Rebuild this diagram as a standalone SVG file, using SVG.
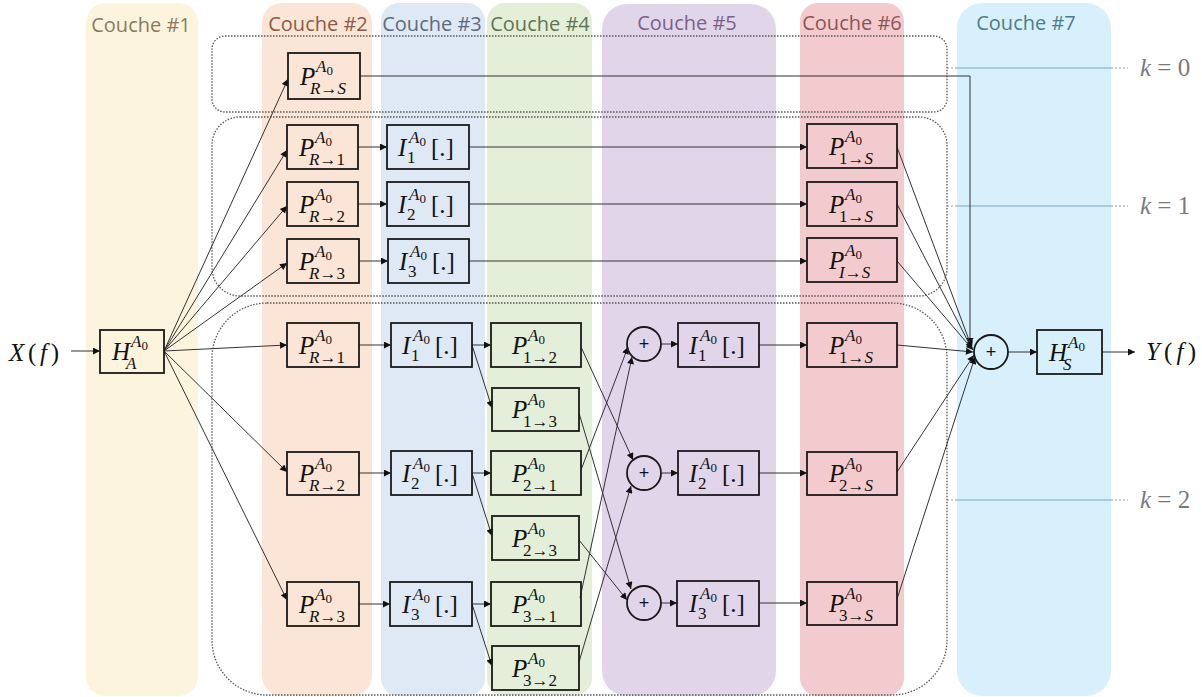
<svg xmlns="http://www.w3.org/2000/svg" width="1202" height="697" viewBox="0 0 1202 697">
<style>
.hd{font-family:"Open Sans","Liberation Sans",sans-serif;font-size:20px;text-anchor:middle}
.bx{fill:none;stroke:#1a1a1a;stroke-width:1.8}
.grp{fill:none;stroke:#555;stroke-width:1.3;stroke-dasharray:1.5 1.5}
.ar{fill:none;stroke:#333;stroke-width:1;marker-end:url(#ah)}
.mi{font-family:"Liberation Serif",serif;font-style:italic;font-size:25px;fill:#111}
.ms{font-style:italic;font-size:17px}
.mn{font-style:normal}
.z{font-size:13px;font-style:normal}
.br{font-style:normal;font-size:25px}
.pl{font-family:"Liberation Sans",sans-serif;font-size:18px;fill:#111;text-anchor:middle}
.kl{font-family:"Liberation Serif",serif;font-size:25px;fill:#7a7a7a}
.kd{stroke:#999;stroke-width:1;stroke-dasharray:2 2}
.kb{stroke:#55b4e2;stroke-width:1;stroke-dasharray:2 2}
</style>
<defs>
<marker id="ah" viewBox="0 0 10 10" refX="10" refY="5" markerWidth="9" markerHeight="7" markerUnits="userSpaceOnUse" orient="auto"><path d="M0,0 L10,5 L0,10 z" fill="#111"/></marker>
</defs>
<rect width="1202" height="697" fill="#fff"/>
<g id="lanes">
<rect x="86" y="3" width="112" height="693" rx="20" fill="#fdf4de"/>
<rect x="262" y="3" width="110" height="693" rx="20" fill="#fbe5d6"/>
<rect x="381" y="3" width="104" height="693" rx="18" fill="#dfe9f5"/>
<rect x="487" y="3" width="105" height="693" rx="18" fill="#e3efd9"/>
<rect x="602" y="4" width="174" height="692" rx="25" fill="#e1d5ea"/>
<rect x="800" y="3" width="104" height="693" rx="18" fill="#f3cbce"/>
<rect x="957" y="3" width="154" height="693" rx="25" fill="#d7f0fb"/>
<text class="hd" x="141" y="32" fill="#8b7a5c">Couche #1</text>
<text class="hd" x="318" y="31" fill="#8c5b47">Couche #2</text>
<text class="hd" x="432" y="31" fill="#5b6b7e">Couche #3</text>
<text class="hd" x="540" y="31" fill="#5e7552">Couche #4</text>
<text class="hd" x="687" y="30" fill="#7c5f8d">Couche #5</text>
<text class="hd" x="852" y="30" fill="#8b5455">Couche #6</text>
<text class="hd" x="1026" y="30" fill="#4d7d8c">Couche #7</text>
</g>
<g id="groups">
<rect class="grp" x="212" y="36" width="735" height="76" rx="13"/>
<rect class="grp" x="212" y="117" width="735" height="179" rx="28"/>
<rect class="grp" x="212" y="303" width="735" height="392" rx="55"/>
<line class="kd" x1="947" y1="68" x2="1128" y2="68"/>
<line class="kb" x1="957" y1="68" x2="1111" y2="68"/>
<line class="kd" x1="947" y1="206" x2="1128" y2="206"/>
<line class="kb" x1="957" y1="206" x2="1111" y2="206"/>
<line class="kd" x1="947" y1="500" x2="1128" y2="500"/>
<line class="kb" x1="957" y1="500" x2="1111" y2="500"/>
<text class="kl" x="1140" y="76"><tspan font-style="italic">k</tspan> = 0</text>
<text class="kl" x="1140" y="214"><tspan font-style="italic">k</tspan> = 1</text>
<text class="kl" x="1140" y="508"><tspan font-style="italic">k</tspan> = 2</text>
</g>
<g id="connectors">
<line class="ar" x1="71" y1="351" x2="100" y2="351"/>
<line class="ar" x1="164" y1="351" x2="288" y2="79"/>
<line class="ar" x1="164" y1="351" x2="287" y2="150"/>
<line class="ar" x1="164" y1="351" x2="287" y2="206"/>
<line class="ar" x1="164" y1="351" x2="287" y2="263"/>
<line class="ar" x1="164" y1="351" x2="287" y2="345"/>
<line class="ar" x1="164" y1="351" x2="287" y2="472"/>
<line class="ar" x1="164" y1="351" x2="287" y2="600"/>
<path class="ar" d="M360,76 H970 V345"/>
<line class="ar" x1="358" y1="147" x2="387" y2="147"/>
<line class="ar" x1="358" y1="204" x2="387" y2="204"/>
<line class="ar" x1="359" y1="261" x2="388" y2="261"/>
<line class="ar" x1="469" y1="147" x2="807" y2="147"/>
<line class="ar" x1="469" y1="204" x2="807" y2="204"/>
<line class="ar" x1="469" y1="261" x2="807" y2="261"/>
<line class="ar" x1="897" y1="147" x2="972" y2="348"/>
<line class="ar" x1="897" y1="204" x2="972" y2="349"/>
<line class="ar" x1="897" y1="261" x2="973" y2="350"/>
<line class="ar" x1="359" y1="345" x2="391" y2="345"/>
<line class="ar" x1="359" y1="473" x2="391" y2="473"/>
<line class="ar" x1="359" y1="604" x2="390" y2="604"/>
<line class="ar" x1="472" y1="345" x2="491" y2="345"/>
<line class="ar" x1="472" y1="345" x2="492" y2="408"/>
<line class="ar" x1="472" y1="473" x2="491" y2="473"/>
<line class="ar" x1="472" y1="473" x2="492" y2="536"/>
<line class="ar" x1="472" y1="604" x2="491" y2="604"/>
<line class="ar" x1="472" y1="604" x2="492" y2="666"/>
<line class="ar" x1="581" y1="347" x2="633" y2="460"/>
<line class="ar" x1="579" y1="413" x2="631" y2="589"/>
<line class="ar" x1="581" y1="470" x2="628" y2="347"/>
<line class="ar" x1="579" y1="540" x2="627" y2="600"/>
<line class="ar" x1="580" y1="598" x2="632" y2="357"/>
<line class="ar" x1="579" y1="662" x2="631" y2="486"/>
<line class="ar" x1="661" y1="344" x2="678" y2="344"/>
<line class="ar" x1="661" y1="473" x2="678" y2="473"/>
<line class="ar" x1="661" y1="603" x2="677" y2="603"/>
<line class="ar" x1="759" y1="345" x2="807" y2="345"/>
<line class="ar" x1="759" y1="473" x2="807" y2="473"/>
<line class="ar" x1="759" y1="603" x2="807" y2="603"/>
<line class="ar" x1="897" y1="345" x2="973" y2="352"/>
<line class="ar" x1="897" y1="472" x2="974" y2="355"/>
<line class="ar" x1="897" y1="599" x2="975" y2="357"/>
<line class="ar" x1="1008" y1="352" x2="1037" y2="352"/>
<line class="ar" x1="1102" y1="352" x2="1135" y2="352"/>
</g>
<g id="io">
<text class="mi" x="9" y="361" textLength="50" lengthAdjust="spacing">X<tspan class="mn">(</tspan>f<tspan class="mn">)</tspan></text>
<text class="mi" x="1146" y="360" textLength="50" lengthAdjust="spacing">Y<tspan class="mn">(</tspan>f<tspan class="mn">)</tspan></text>
</g>
<g id="n-HA"><rect class="bx" x="100" y="330" width="64" height="43"/>
<text class="mi" x="112" y="360">H<tspan class="ms" x="131" dy="-13">A</tspan><tspan class="z" dy="3">0</tspan><tspan class="ms" x="126" dy="19">A</tspan></text></g>
<g id="n-HS"><rect class="bx" x="1037" y="330" width="65" height="44"/>
<text class="mi" x="1049" y="361">H<tspan class="ms" x="1068" dy="-13">A</tspan><tspan class="z" dy="3">0</tspan><tspan class="ms" x="1063" dy="19">S</tspan></text></g>
<!-- k=0 -->
<g id="n-PRS0"><rect class="bx" x="288" y="53" width="72" height="46"/>
<text class="mi" x="300" y="85">P<tspan class="ms" x="316" dy="-13">A</tspan><tspan class="z" dy="3">0</tspan><tspan class="ms" x="310" dy="19">R</tspan><tspan class="ms mn">→</tspan><tspan class="ms">S</tspan></text></g>
<!-- k=1 -->
<g id="n-PR1a"><rect class="bx" x="287" y="125" width="71" height="44"/>
<text class="mi" x="299" y="156">P<tspan class="ms" x="315" dy="-13">A</tspan><tspan class="z" dy="3">0</tspan><tspan class="ms" x="309" dy="19">R</tspan><tspan class="ms mn">→1</tspan></text></g>
<g id="n-PR2a"><rect class="bx" x="287" y="182" width="71" height="44"/>
<text class="mi" x="299" y="213">P<tspan class="ms" x="315" dy="-13">A</tspan><tspan class="z" dy="3">0</tspan><tspan class="ms" x="309" dy="19">R</tspan><tspan class="ms mn">→2</tspan></text></g>
<g id="n-PR3a"><rect class="bx" x="287" y="239" width="72" height="44"/>
<text class="mi" x="299" y="270">P<tspan class="ms" x="315" dy="-13">A</tspan><tspan class="z" dy="3">0</tspan><tspan class="ms" x="309" dy="19">R</tspan><tspan class="ms mn">→3</tspan></text></g>
<g id="n-I1a"><rect class="bx" x="387" y="125" width="82" height="44"/>
<text class="mi" x="398" y="156">I<tspan class="ms mn" x="407" dy="7">1</tspan><tspan class="ms" x="409" dy="-20">A</tspan><tspan class="z" dy="3">0</tspan><tspan class="br" x="431" dy="10">[.]</tspan></text></g>
<g id="n-I2a"><rect class="bx" x="387" y="182" width="82" height="44"/>
<text class="mi" x="398" y="213">I<tspan class="ms mn" x="407" dy="7">2</tspan><tspan class="ms" x="409" dy="-20">A</tspan><tspan class="z" dy="3">0</tspan><tspan class="br" x="431" dy="10">[.]</tspan></text></g>
<g id="n-I3a"><rect class="bx" x="388" y="239" width="81" height="44"/>
<text class="mi" x="399" y="270">I<tspan class="ms mn" x="408" dy="7">3</tspan><tspan class="ms" x="410" dy="-20">A</tspan><tspan class="z" dy="3">0</tspan><tspan class="br" x="432" dy="10">[.]</tspan></text></g>
<g id="n-P1Sa"><rect class="bx" x="807" y="124" width="90" height="44"/>
<text class="mi" x="829" y="155">P<tspan class="ms" x="845" dy="-13">A</tspan><tspan class="z" dy="3">0</tspan><tspan class="ms mn" x="839" dy="19">1→</tspan><tspan class="ms">S</tspan></text></g>
<g id="n-P1Sb"><rect class="bx" x="807" y="182" width="90" height="44"/>
<text class="mi" x="829" y="213">P<tspan class="ms" x="845" dy="-13">A</tspan><tspan class="z" dy="3">0</tspan><tspan class="ms mn" x="839" dy="19">1→</tspan><tspan class="ms">S</tspan></text></g>
<g id="n-PISa"><rect class="bx" x="807" y="238" width="90" height="44"/>
<text class="mi" x="829" y="269">P<tspan class="ms" x="845" dy="-13">A</tspan><tspan class="z" dy="3">0</tspan><tspan class="ms" x="839" dy="19">I</tspan><tspan class="ms mn">→</tspan><tspan class="ms">S</tspan></text></g>
<!-- k=2 -->
<g id="n-PR1"><rect class="bx" x="287" y="323" width="72" height="44"/>
<text class="mi" x="299" y="354">P<tspan class="ms" x="315" dy="-13">A</tspan><tspan class="z" dy="3">0</tspan><tspan class="ms" x="309" dy="19">R</tspan><tspan class="ms mn">→1</tspan></text></g>
<g id="n-PR2"><rect class="bx" x="287" y="452" width="72" height="43"/>
<text class="mi" x="299" y="482">P<tspan class="ms" x="315" dy="-13">A</tspan><tspan class="z" dy="3">0</tspan><tspan class="ms" x="309" dy="19">R</tspan><tspan class="ms mn">→2</tspan></text></g>
<g id="n-PR3"><rect class="bx" x="287" y="582" width="72" height="44"/>
<text class="mi" x="299" y="613">P<tspan class="ms" x="315" dy="-13">A</tspan><tspan class="z" dy="3">0</tspan><tspan class="ms" x="309" dy="19">R</tspan><tspan class="ms mn">→3</tspan></text></g>
<g id="n-I1"><rect class="bx" x="391" y="323" width="81" height="44"/>
<text class="mi" x="402" y="354">I<tspan class="ms mn" x="411" dy="7">1</tspan><tspan class="ms" x="413" dy="-20">A</tspan><tspan class="z" dy="3">0</tspan><tspan class="br" x="435" dy="10">[.]</tspan></text></g>
<g id="n-I2"><rect class="bx" x="391" y="451" width="81" height="44"/>
<text class="mi" x="402" y="482">I<tspan class="ms mn" x="411" dy="7">2</tspan><tspan class="ms" x="413" dy="-20">A</tspan><tspan class="z" dy="3">0</tspan><tspan class="br" x="435" dy="10">[.]</tspan></text></g>
<g id="n-I3"><rect class="bx" x="390" y="582" width="82" height="44"/>
<text class="mi" x="402" y="613">I<tspan class="ms mn" x="411" dy="7">3</tspan><tspan class="ms" x="413" dy="-20">A</tspan><tspan class="z" dy="3">0</tspan><tspan class="br" x="435" dy="10">[.]</tspan></text></g>
<g id="n-P12"><rect class="bx" x="491" y="323" width="90" height="44"/>
<text class="mi" x="512" y="354">P<tspan class="ms" x="528" dy="-13">A</tspan><tspan class="z" dy="3">0</tspan><tspan class="ms mn" x="523" dy="19">1→2</tspan></text></g>
<g id="n-P13"><rect class="bx" x="492" y="388" width="87" height="43"/>
<text class="mi" x="512" y="418">P<tspan class="ms" x="528" dy="-13">A</tspan><tspan class="z" dy="3">0</tspan><tspan class="ms mn" x="523" dy="19">1→3</tspan></text></g>
<g id="n-P21"><rect class="bx" x="491" y="451" width="90" height="44"/>
<text class="mi" x="512" y="482">P<tspan class="ms" x="528" dy="-13">A</tspan><tspan class="z" dy="3">0</tspan><tspan class="ms mn" x="523" dy="19">2→1</tspan></text></g>
<g id="n-P23"><rect class="bx" x="492" y="516" width="87" height="44"/>
<text class="mi" x="512" y="547">P<tspan class="ms" x="528" dy="-13">A</tspan><tspan class="z" dy="3">0</tspan><tspan class="ms mn" x="523" dy="19">2→3</tspan></text></g>
<g id="n-P31"><rect class="bx" x="491" y="582" width="90" height="44"/>
<text class="mi" x="512" y="613">P<tspan class="ms" x="528" dy="-13">A</tspan><tspan class="z" dy="3">0</tspan><tspan class="ms mn" x="523" dy="19">3→1</tspan></text></g>
<g id="n-P32"><rect class="bx" x="492" y="646" width="87" height="44"/>
<text class="mi" x="512" y="677">P<tspan class="ms" x="528" dy="-13">A</tspan><tspan class="z" dy="3">0</tspan><tspan class="ms mn" x="523" dy="19">3→2</tspan></text></g>
<g id="n-S1"><circle class="bx" cx="644" cy="344" r="17"/><text class="pl" x="644" y="350">+</text></g>
<g id="n-S2"><circle class="bx" cx="644" cy="473" r="17"/><text class="pl" x="644" y="479">+</text></g>
<g id="n-S3"><circle class="bx" cx="644" cy="603" r="17"/><text class="pl" x="644" y="609">+</text></g>
<g id="n-I1b"><rect class="bx" x="678" y="323" width="81" height="44"/>
<text class="mi" x="689" y="354">I<tspan class="ms mn" x="698" dy="7">1</tspan><tspan class="ms" x="700" dy="-20">A</tspan><tspan class="z" dy="3">0</tspan><tspan class="br" x="722" dy="10">[.]</tspan></text></g>
<g id="n-I2b"><rect class="bx" x="678" y="451" width="81" height="44"/>
<text class="mi" x="689" y="482">I<tspan class="ms mn" x="698" dy="7">2</tspan><tspan class="ms" x="700" dy="-20">A</tspan><tspan class="z" dy="3">0</tspan><tspan class="br" x="722" dy="10">[.]</tspan></text></g>
<g id="n-I3b"><rect class="bx" x="677" y="581" width="82" height="45"/>
<text class="mi" x="689" y="612">I<tspan class="ms mn" x="698" dy="7">3</tspan><tspan class="ms" x="700" dy="-20">A</tspan><tspan class="z" dy="3">0</tspan><tspan class="br" x="722" dy="10">[.]</tspan></text></g>
<g id="n-P1S"><rect class="bx" x="807" y="323" width="90" height="44"/>
<text class="mi" x="829" y="354">P<tspan class="ms" x="845" dy="-13">A</tspan><tspan class="z" dy="3">0</tspan><tspan class="ms mn" x="839" dy="19">1→</tspan><tspan class="ms">S</tspan></text></g>
<g id="n-P2S"><rect class="bx" x="807" y="452" width="90" height="43"/>
<text class="mi" x="829" y="482">P<tspan class="ms" x="845" dy="-13">A</tspan><tspan class="z" dy="3">0</tspan><tspan class="ms mn" x="839" dy="19">2→</tspan><tspan class="ms">S</tspan></text></g>
<g id="n-P3S"><rect class="bx" x="807" y="582" width="90" height="43"/>
<text class="mi" x="829" y="612">P<tspan class="ms" x="845" dy="-13">A</tspan><tspan class="z" dy="3">0</tspan><tspan class="ms mn" x="839" dy="19">3→</tspan><tspan class="ms">S</tspan></text></g>
<g id="n-SUM"><circle class="bx" cx="991" cy="352" r="17"/><text class="pl" x="991" y="358">+</text></g>
</svg>
